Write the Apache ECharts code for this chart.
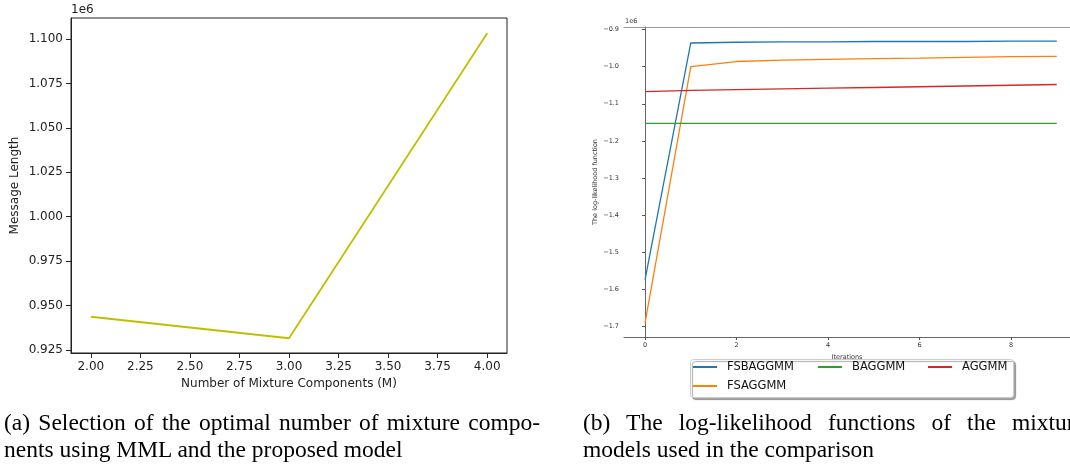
<!DOCTYPE html>
<html lang="en">
<head>
  <meta charset="utf-8">
  <style>
    html, body { margin: 0; width: 1070px; height: 468px; overflow: hidden; background: #fff; }
    #container { position: absolute; left: 0; top: 0; width: 1070px; height: 468px; }
    .cap { position: absolute; font-family: "Liberation Serif", serif; font-size: 23.5px; line-height: 27px; color: #000; white-space: nowrap; }
    .just { text-align: justify; text-align-last: justify; white-space: normal; }
  </style>
</head>
<body>
  <div id="container"></div>
  <div class="cap just" style="left:4px; top:409px; width:536px;">(a) Selection of the optimal number of mixture compo-</div>
  <div class="cap" style="left:4px; top:436px;">nents using MML and the proposed model</div>
  <div class="cap just" style="left:583px; top:409px; width:502px;">(b) The log-likelihood functions of the mixture</div>
  <div class="cap" style="left:583px; top:436px;">models used in the comparison</div>

  <script type="text/javascript" src="https://cdn.jsdelivr.net/npm/echarts@6/dist/echarts.min.js"></script>
  <script type="text/javascript">
    var dom = document.getElementById('container');
    var myChart = echarts.init(dom, null, { renderer: 'canvas' });

// (a) message length vs number of components
const components = [2, 3, 4];
const messageLength = [943700, 931600, 1103200];
const aTicksX = [2, 2.25, 2.5, 2.75, 3, 3.25, 3.5, 3.75, 4];
const aTicksY = [925000, 950000, 975000, 1000000, 1025000, 1050000, 1075000, 1100000];

// (b) log-likelihood per iteration
const iterations = [0, 1, 2, 3, 4, 5, 6, 7, 8, 9];
const fsbaggmm = [-1574000, -936000, -934000, -933000, -933000, -932000, -932000, -932000, -931000, -931000];
const fsaggmm = [-1691000, -1000000, -986000, -982000, -980000, -978000, -977000, -975000, -973000, -972000];
const baggmm = [-1153000, -1153000, -1153000, -1153000, -1153000, -1153000, -1153000, -1153000, -1153000, -1153000];
const aggmm = [-1067000, -1064000, -1062000, -1060000, -1058000, -1056000, -1054000, -1052000, -1050000, -1048000];
const bTicksX = [0, 2, 4, 6, 8];
const bTicksY = [-1700000, -1600000, -1500000, -1400000, -1300000, -1200000, -1100000, -1000000, -900000];

const FONT = 'DejaVu Sans';
const pairs = (xs, ys) => xs.map((x, i) => [x, ys[i]]);
const minus = s => s.replace('-', '\u2212');

// the right panel is cut off by the page edge, so its x range stops at ~9.29
const bMinX = -0.46, bMaxX = 9.29;

var option = {
  animation: false,
  textStyle: { fontFamily: FONT },
  grid: [
    { left: 71, top: 18, width: 436, height: 335, show: true, borderColor: '#222', borderWidth: 1 },
    { left: 624, top: 27, width: 446, height: 310 }
  ],
  xAxis: [
    {
      type: 'value', gridIndex: 0, min: 1.9, max: 4.1,
      name: 'Number of Mixture Components (M)', nameLocation: 'middle', nameGap: 24,
      nameTextStyle: { fontSize: 12, color: '#222', fontFamily: FONT },
      axisLine: { show: true, lineStyle: { color: '#222' } },
      axisTick: { show: true, length: 5, customValues: aTicksX, lineStyle: { color: '#222' } },
      axisLabel: { customValues: aTicksX, fontSize: 12, color: '#222', margin: 8, formatter: v => v.toFixed(2) },
      splitLine: { show: false }
    },
    {
      type: 'value', gridIndex: 1, min: bMinX, max: bMaxX,
      name: 'Iterations', nameLocation: 'middle', nameGap: 13,
      nameTextStyle: { fontSize: 6.5, color: '#333', fontFamily: FONT },
      axisLine: { show: true, lineStyle: { color: '#666' } },
      axisTick: { show: true, length: 3, customValues: bTicksX, lineStyle: { color: '#555' } },
      axisLabel: { customValues: bTicksX, fontSize: 6.5, color: '#333', margin: 5 },
      splitLine: { show: false }
    },
    {
      // top spine of the right panel
      type: 'value', gridIndex: 1, position: 'top', min: bMinX, max: bMaxX,
      axisLine: { show: true, lineStyle: { color: '#999' } },
      axisTick: { show: false }, axisLabel: { show: false }, splitLine: { show: false }
    }
  ],
  yAxis: [
    {
      type: 'value', gridIndex: 0, min: 923300, max: 1111800,
      name: 'Message Length', nameLocation: 'middle', nameGap: 50,
      nameTextStyle: { fontSize: 12, color: '#222', fontFamily: FONT },
      axisLine: { show: true, lineStyle: { color: '#222' } },
      axisTick: { show: true, length: 5, customValues: aTicksY, lineStyle: { color: '#222' } },
      axisLabel: { customValues: aTicksY, fontSize: 12, color: '#222', margin: 8, formatter: v => (v / 1e6).toFixed(3) },
      splitLine: { show: false }
    },
    {
      type: 'value', gridIndex: 1, min: -1728900, max: -892900,
      name: 'The log-likelihood function', nameLocation: 'middle', nameGap: 25,
      nameTextStyle: { fontSize: 6.5, color: '#333', fontFamily: FONT },
      axisLine: { show: true, lineStyle: { color: '#666' } },
      axisTick: { show: true, length: 3, customValues: bTicksY, lineStyle: { color: '#555' } },
      axisLabel: { customValues: bTicksY, fontSize: 6.5, color: '#333', margin: 5, formatter: v => minus((v / 1e6).toFixed(1)) },
      splitLine: { show: false }
    }
  ],
  legend: [
    { data: ['FSBAGGMM', 'FSAGGMM'], orient: 'vertical', left: 693, top: 361 },
    { data: ['BAGGMM'], orient: 'vertical', left: 818, top: 361 },
    { data: ['AGGMM'], orient: 'vertical', left: 928, top: 361 }
  ].map(l => Object.assign(l, {
    padding: 0, itemGap: 7, itemWidth: 24, itemHeight: 2, icon: 'rect',
    textStyle: { fontSize: 11.5, color: '#111', fontFamily: FONT, padding: [0, 0, 0, 5] }
  })),
  graphic: [
    {
      type: 'rect', left: 690, top: 359, z: -1,
      shape: { width: 323, height: 38, r: 3 },
      style: { fill: '#fff', stroke: '#ccc', lineWidth: 1, shadowColor: 'rgba(0,0,0,0.35)', shadowOffsetX: 2, shadowOffsetY: 2, shadowBlur: 1 }
    },
    { type: 'text', left: 71, top: 4, style: { text: '1e6', font: '12px "DejaVu Sans"', fill: '#222' } },
    { type: 'text', left: 625, top: 18, style: { text: '1e6', font: '6.5px "DejaVu Sans"', fill: '#333' } }
  ],
  series: [
    {
      name: 'Message Length', type: 'line', xAxisIndex: 0, yAxisIndex: 0,
      data: pairs(components, messageLength), showSymbol: false,
      lineStyle: { width: 1.8, color: '#bfbf00' }, itemStyle: { color: '#bfbf00' }
    },
    {
      name: 'FSBAGGMM', type: 'line', xAxisIndex: 1, yAxisIndex: 1,
      data: pairs(iterations, fsbaggmm), showSymbol: false,
      lineStyle: { width: 1.3, color: '#1f77b4' }, itemStyle: { color: '#1f77b4' }
    },
    {
      name: 'FSAGGMM', type: 'line', xAxisIndex: 1, yAxisIndex: 1,
      data: pairs(iterations, fsaggmm), showSymbol: false,
      lineStyle: { width: 1.3, color: '#ff7f0e' }, itemStyle: { color: '#ff7f0e' }
    },
    {
      name: 'BAGGMM', type: 'line', xAxisIndex: 1, yAxisIndex: 1,
      data: pairs(iterations, baggmm), showSymbol: false,
      lineStyle: { width: 1.3, color: '#2ca02c' }, itemStyle: { color: '#2ca02c' }
    },
    {
      name: 'AGGMM', type: 'line', xAxisIndex: 1, yAxisIndex: 1,
      data: pairs(iterations, aggmm), showSymbol: false,
      lineStyle: { width: 1.3, color: '#d62728' }, itemStyle: { color: '#d62728' }
    }
  ]
};

    if (option && typeof option === 'object') {
      myChart.setOption(option);
    }

    window.addEventListener('resize', myChart.resize);
  </script>
</body>
</html>
